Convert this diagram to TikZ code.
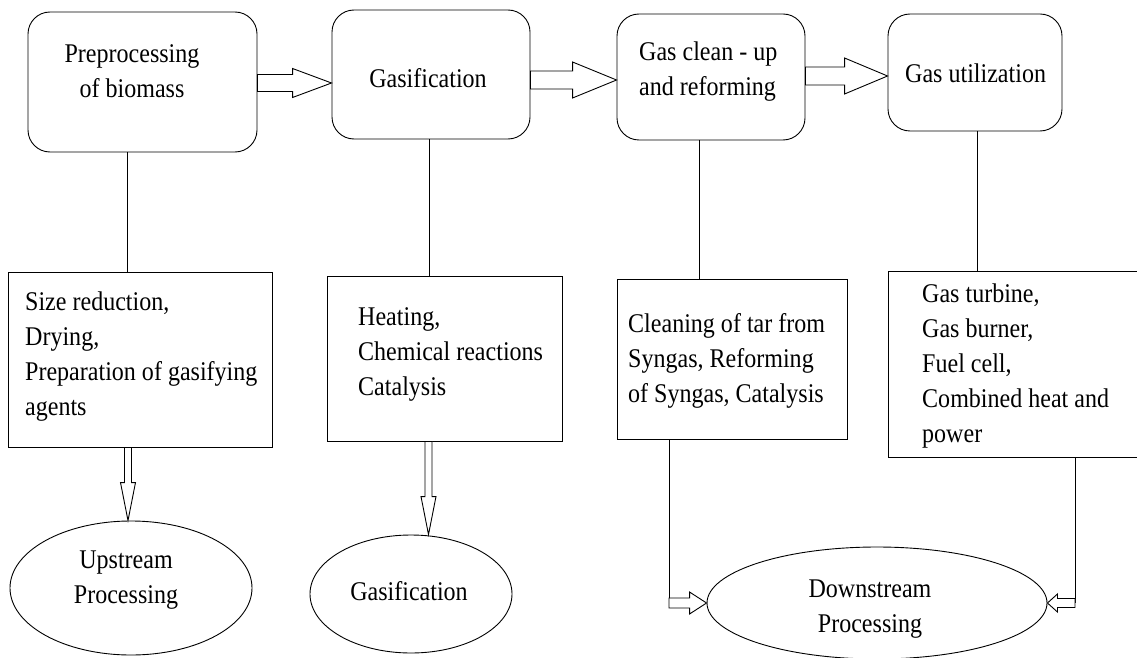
\documentclass[tikz,border=0pt]{standalone}
\usepackage{fontspec}
\setmainfont[FakeStretch=0.89]{Liberation Serif}
\usetikzlibrary{calc,shapes.geometric}
\newcommand\harrow[5]{%
  \draw[blockarr] let \p1=(#1), \p2=(#2), \p3=($(\p2)!#5!(\p1)$) in
  (\x1,{\y2+#3}) -- (\x3,{\y2+#3}) -- (\x3,{\y2+#4}) -- (\x2,\y2)
  -- (\x3,{\y2-#4}) -- (\x3,{\y2-#3}) -- (\x1,{\y2-#3}) -- cycle;}
\newcommand\varrow[5]{%
  \draw[blockarr] let \p1=(#1), \p2=(#2) in
  ({\x2-#3},\y1) -- ({\x2-#3},{\y2+#5}) -- ({\x2-#4},{\y2+#5}) -- (\x2,\y2)
  -- ({\x2+#4},{\y2+#5}) -- ({\x2+#3},{\y2+#5}) -- ({\x2+#3},\y1) -- cycle;}
\begin{document}
\begin{tikzpicture}[x=1pt,y=-1pt,
  rbox/.style={draw,rounded corners=22pt,line width=0.9pt,inner sep=0pt},
  sbox/.style={draw,line width=0.9pt,inner sep=0pt},
  ell/.style={draw,ellipse,line width=0.9pt,inner sep=0pt},
  txt/.style={inner sep=0pt,font=\fontsize{27}{35}\selectfont},
  conn/.style={line width=0.9pt},
  blockarr/.style={draw,line width=0.9pt,fill=white,line join=miter}]
\useasboundingbox (0,0) rectangle (1137,658);
% top boxes
\node[rbox,minimum width=229pt,minimum height=140pt] (b1) at (142.5,82) {};
\node[rbox,minimum width=198pt,minimum height=129pt] (b2) at (431,74.5) {};
\node[rbox,minimum width=188pt,minimum height=126pt] (b3) at (711,77) {};
\node[rbox,minimum width=174pt,minimum height=117pt] (b4) at (975,72.5) {};
% lower boxes
\node[sbox,minimum width=264pt,minimum height=175pt] (bA) at (140,359.5) {};
\node[sbox,minimum width=235pt,minimum height=165pt] (bB) at (444.5,358.5) {};
\node[sbox,minimum width=230pt,minimum height=160pt] (bC) at (732,359) {};
\node[sbox,minimum width=257pt,minimum height=186pt] (bD) at (1016.5,364) {};
% ellipses
\node[ell,minimum width=242pt,minimum height=134pt] (uE) at (131,588) {};
\node[ell,minimum width=202pt,minimum height=118pt] (gE) at (411,594) {};
\node[ell,minimum width=340pt,minimum height=112pt] (dE) at (877,603) {};
% helper coordinates
\coordinate (x1) at (127,0);
\coordinate (x2) at (429,0);
\coordinate (x3) at (699,0);
\coordinate (x4) at (977,0);
\coordinate (h1) at (0,83);
\coordinate (h2) at (0,80);
\coordinate (h3) at (0,76);
\coordinate (vA) at (128,0);
\coordinate (vB) at (428.5,0);
\coordinate (dl) at (669,0);
\coordinate (dr) at (1075,0);
% connectors
\draw[conn] (b1.south -| x1) -- (bA.north -| x1);
\draw[conn] (b2.south -| x2) -- (bB.north -| x2);
\draw[conn] (b3.south -| x3) -- (bC.north -| x3);
\draw[conn] (b4.south -| x4) -- (bD.north -| x4);
\harrow{b1.east |- h1}{b2.west |- h1}{8.5pt}{14.5pt}{39pt}
\harrow{b2.east |- h2}{b3.west |- h2}{9pt}{18pt}{44pt}
\harrow{b3.east |- h3}{b4.west |- h3}{9pt}{18pt}{43pt}
\varrow{bA.south -| vA}{uE.north -| vA}{3.5pt}{7.5pt}{38pt}
\varrow{bB.south -| vB}{gE.north -| vB}{3.5pt}{7.5pt}{38pt}
\draw[conn] (bC.south -| dl) -- (dl |- dE.west);
\harrow{dl |- dE.west}{dE.west}{5pt}{11pt}{17pt}
\draw[conn] (bD.south -| dr) -- (dr |- dE.east);
\harrow{dr |- dE.east}{dE.east}{4.5pt}{9pt}{10pt}
% texts
\node[txt,anchor=north,align=center] (t1) at (132,37.5) {\strut Preprocessing\\of biomass};
\node[txt,anchor=base] (t2) at (428,88) {Gasification};
\node[txt,anchor=north west,align=left] (t3) at (639,35.5) {\strut Gas clean - up\\and reforming};
\node[txt,anchor=base west] (t4) at (905,83) {Gas utilization};
\node[txt,anchor=north west,align=left] (tA) at (25,285.5) {\strut Size reduction,\\Drying,\\Preparation of gasifying\\agents};
\node[txt,anchor=north west,align=left] (tB) at (358,300.5) {\strut Heating,\\Chemical reactions\\Catalysis};
\node[txt,anchor=north west,align=left] (tC) at (628,307.5) {\strut Cleaning of tar from\\Syngas, Reforming\\of Syngas, Catalysis};
\node[txt,anchor=north west,align=left] (tD) at (922,277.5) {\strut Gas turbine,\\Gas burner,\\Fuel cell,\\Combined heat and\\power};
\node[txt,anchor=north,align=center] (tU) at (126,543.5) {\strut Upstream\\Processing};
\node[txt,anchor=base] (tG) at (409,600) {Gasification};
\node[txt,anchor=north,align=center] (tDs) at (870,572.5) {\strut Downstream\\Processing};
\end{tikzpicture}
\end{document}
